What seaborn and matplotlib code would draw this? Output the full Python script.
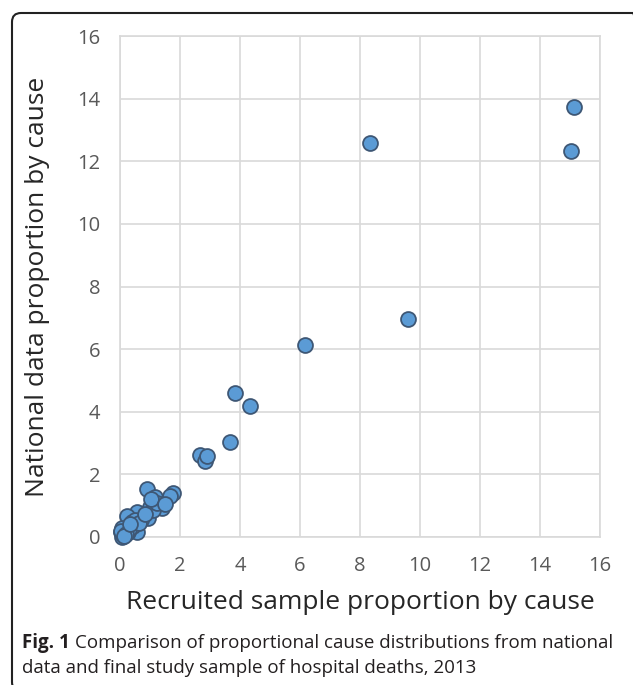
import pandas as pd
import seaborn as sns
import matplotlib.pyplot as plt
from matplotlib.patches import FancyBboxPatch

# recruited sample proportion (x) vs national data proportion (y), by cause
recruited = [8.33, 15.02, 15.14, 9.59, 6.18, 3.82, 4.34, 3.68, 2.67, 2.84, 2.91,
             0.91, 1.76, 1.67, 1.17, 1.29, 1.39, 1.00, 0.83, 0.94, 0.56, 0.24,
             0.39, 0.58, 0.28, 0.06, 0.06, 0.15, 0.70, 1.10, 0.45, 0.30, 0.10,
             0.02, 0.05, 0.20, 0.50, 0.65, 1.25, 0.85, 1.05, 1.50, 0.12, 0.35]
national = [12.57, 12.34, 13.72, 6.95, 6.12, 4.61, 4.19, 3.03, 2.62, 2.44, 2.59,
            1.54, 1.42, 1.32, 1.27, 1.05, 0.92, 0.97, 0.70, 0.60, 0.81, 0.67,
            0.49, 0.17, 0.17, 0.28, 0.01, 0.12, 0.55, 0.85, 0.35, 0.25, 0.05,
            0.15, 0.20, 0.10, 0.55, 0.45, 1.10, 0.75, 1.20, 1.05, 0.02, 0.40]
ticks = list(range(0, 17, 2))

df = pd.DataFrame({"recruited": recruited, "national": national})

sns.set_style("white")
plt.rcParams['font.family'] = ['Open Sans', 'DejaVu Sans']

fig = plt.figure(figsize=(6.33, 6.85), dpi=100)
ax = fig.add_axes([120 / 633, 1 - 537 / 685, 480 / 633, 501 / 685])

sns.scatterplot(data=df, x="recruited", y="national", ax=ax, s=115,
                color="#5B9BD5", edgecolor="#3E5775", linewidth=1.3,
                zorder=3, clip_on=False)

ax.set_xlim(0, 16)
ax.set_ylim(0, 16)
ax.set_xticks(ticks)
ax.set_yticks(ticks)
ax.grid(True, color="#D9D9D9", linewidth=1.2)
for sp in ax.spines.values():
    sp.set_color("#D9D9D9")
    sp.set_linewidth(1.2)
ax.tick_params(axis="x", length=0, labelsize=14.5, labelcolor="#595959", pad=14)
ax.tick_params(axis="y", length=0, labelsize=14.5, labelcolor="#595959", pad=14)
ax.set_xlabel("Recruited sample proportion by cause", fontsize=19, labelpad=10)
ax.set_ylabel("National data proportion by cause", fontsize=19, labelpad=20)

# caption: bold "Fig. 1" followed by regular text
cap_y = 1 - 643 / 685
t = fig.text(22 / 633, cap_y, "Fig. 1", fontsize=13.5, fontweight="bold",
             va="center", ha="left", color="#231F20")
fig.canvas.draw()
bb = t.get_window_extent(renderer=fig.canvas.get_renderer())
fig.text(bb.x1 / fig.bbox.width + 5 / 633, cap_y,
         "Comparison of proportional cause distributions from national",
         fontsize=13.5, va="center", ha="left", color="#231F20")
fig.text(22 / 633, 1 - 668 / 685,
         "data and final study sample of hospital deaths, 2013",
         fontsize=13.5, va="center", ha="left", color="#231F20")

# rounded frame, open at the bottom and right
frame = FancyBboxPatch((0.12, -0.06), 6.30, 6.85 - 0.13 + 0.06,
                       boxstyle="round,pad=0,rounding_size=0.09",
                       transform=fig.dpi_scale_trans, fill=False,
                       edgecolor="#222222", linewidth=1.5, clip_on=False)
fig.add_artist(frame)

plt.savefig("out.png", dpi=100)
